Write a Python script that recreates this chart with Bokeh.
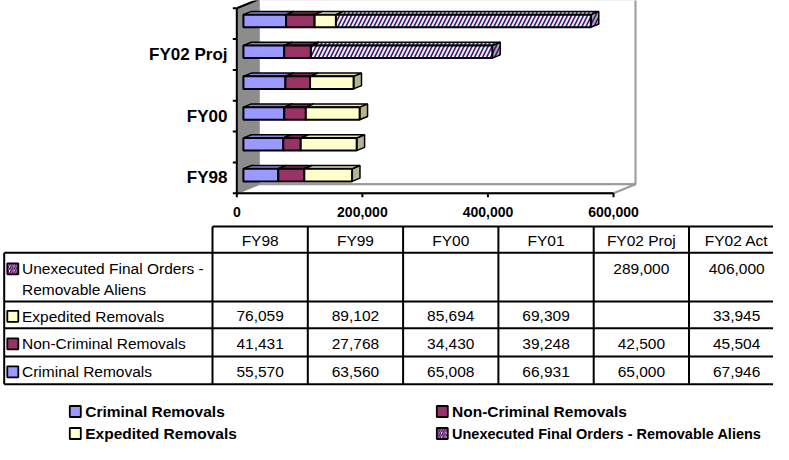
from bokeh.plotting import figure
from bokeh.models import Range1d, ColumnDataSource
from bokeh.core.properties import value
from bokeh.embed import file_html
from bokeh.resources import INLINE

# ---------------- data ----------------
categories = ["FY98", "FY99", "FY00", "FY01", "FY02 Proj", "FY02 Act"]
criminal = [55570, 63560, 65008, 66931, 65000, 67946]
non_criminal = [41431, 27768, 34430, 39248, 42500, 45504]
expedited = [76059, 89102, 85694, 69309, None, 33945]
unexecuted = [None, None, None, None, 289000, 406000]
series_names = ["Criminal Removals", "Non-Criminal Removals",
                "Expedited Removals", "Unexecuted Final Orders - Removable Aliens"]
x_ticks = [0, 200000, 400000, 600000]
x_tick_labels = ["0", "200,000", "400,000", "600,000"]
x_max = 600000

series = [criminal, non_criminal, expedited, unexecuted]

# ---------------- styles ----------------
FONT = value("Liberation Sans")
FRONT = ["#9999FF", "#993366", "#FFFFCC", "#CCFFFF"]
TOP = ["#8585E6", "#80294F", "#E6E6B3", "#B3E6E6"]
SIDE = ["#6B6BB3", "#6B2447", "#B3B38F", "#8FB3B3"]
HATCH = [None, None, None, "/"]
HATCH_COLOR = "#660066"

# ---------------- layout (reference pixel space) ----------------
W, H = 773, 444
PX_X0, PX_X1 = 8, 781
PX_Y0, PX_Y1 = 8, 452
AX_X0, AX_X1 = 244.3, 621.0
K = (AX_X1 - AX_X0) / x_max
CAT_Y0 = 185.3
BAND = 30.83
DEPTH_X, DEPTH_Y = 22.0, 9.0


def v_of(px):
    return (px - AX_X0) / K


def c_of(py):
    return (CAT_Y0 - py) / BAND


p = figure(width=W, height=H,
           x_range=Range1d(PX_X0, PX_X1), y_range=Range1d(PX_Y1, PX_Y0),
           output_backend="svg", toolbar_location=None, min_border=0,
           x_axis_type=None, y_axis_type=None,
           background_fill_color="white", border_fill_color="white",
           outline_line_color=None)
p.extra_x_ranges = {"v": Range1d(v_of(PX_X0), v_of(PX_X1))}
p.extra_y_ranges = {"c": Range1d(c_of(PX_Y1), c_of(PX_Y0))}
kw = dict(x_range_name="v", y_range_name="c")

n = len(categories)
c_lo, c_hi = -0.5, n - 0.5
DXV = DEPTH_X / K
DYC = DEPTH_Y / BAND

# walls and floor
p.quad(left=DXV, right=x_max + DXV, bottom=c_lo + DYC, top=c_hi + DYC,
       fill_color="white", line_color="#999999", line_width=2, **kw)
p.patch(x=[0, x_max, x_max + DXV, DXV], y=[c_lo, c_lo, c_lo + DYC, c_lo + DYC],
        fill_color="white", line_color="#999999", line_width=2, **kw)
p.patch(x=[0, 0, DXV, DXV], y=[c_lo, c_hi, c_hi + DYC, c_lo + DYC],
        fill_color="#8c8c8c", line_color="#8c8c8c", line_width=1, **kw)
p.line(x=[0, DXV], y=[c_hi, c_hi + DYC], line_color="black", line_width=2, **kw)

# axes
p.line(x=[0, 0], y=[c_lo, c_hi], line_color="black", line_width=2, **kw)
p.line(x=[0, x_max], y=[c_lo, c_lo], line_color="black", line_width=2, **kw)
yt = [c_lo + j for j in range(n + 1)]
p.segment(x0=[0] * len(yt), x1=[-4 / K] * len(yt), y0=yt, y1=yt,
          line_color="black", line_width=2, **kw)
p.segment(x0=x_ticks, x1=x_ticks, y0=[c_lo] * len(x_ticks),
          y1=[c_lo - 4 / BAND] * len(x_ticks), line_color="black", line_width=2, **kw)

# bars
F0, FB, HALF = 0.30, 0.36, 6.3 / BAND
fx, fy = F0 * DXV, F0 * DYC
bdx, bdy = FB * DXV, FB * DYC
fronts = [dict(l=[], r=[], b=[], t=[]) for _ in series]
tops = [dict(xs=[], ys=[]) for _ in series]
sides = [dict(xs=[], ys=[]) for _ in series]
for i in range(n):
    cum = 0
    for s, vals in enumerate(series):
        v = vals[i]
        if not v:
            continue
        l, r = cum + fx, cum + v + fx
        b, t = i + fy - HALF, i + fy + HALF
        fronts[s]["l"].append(l); fronts[s]["r"].append(r)
        fronts[s]["b"].append(b); fronts[s]["t"].append(t)
        tops[s]["xs"].append([l, r, r + bdx, l + bdx])
        tops[s]["ys"].append([t, t, t + bdy, t + bdy])
        sides[s]["xs"].append([r, r + bdx, r + bdx, r])
        sides[s]["ys"].append([b, b + bdy, t + bdy, t])
        cum += v


def hatch_kw(s, scale=8.0, weight=1.6):
    if HATCH[s]:
        return dict(hatch_pattern=HATCH[s], hatch_color=HATCH_COLOR,
                    hatch_weight=weight, hatch_scale=scale)
    return {}


for s in range(len(series)):
    p.patches(xs="xs", ys="ys", source=ColumnDataSource(sides[s]),
              fill_color=SIDE[s], line_color="black", line_width=1.5,
              **hatch_kw(s), **kw)
for s in range(len(series)):
    p.patches(xs="xs", ys="ys", source=ColumnDataSource(tops[s]),
              fill_color=TOP[s], line_color="black", line_width=1.5,
              **hatch_kw(s), **kw)
for s in range(len(series)):
    p.quad(left="l", right="r", bottom="b", top="t", source=ColumnDataSource(fronts[s]),
           fill_color=FRONT[s], line_color="black", line_width=2,
           **hatch_kw(s), **kw)

# axis labels
lab_idx = list(range(0, n, 2))
p.text(x=[-9.3 / K] * len(lab_idx), y=lab_idx, text=[categories[i] for i in lab_idx],
       text_font=FONT, text_font_style="bold", text_font_size="17px",
       text_align="right", text_baseline="middle", text_color="black", **kw)
p.text(x=x_ticks, y=[c_of(219)] * len(x_ticks), text=x_tick_labels,
       text_font=FONT, text_font_style="bold", text_font_size="14px",
       text_align="center", text_baseline="middle", text_color="black", **kw)

# ---------------- data table ----------------
TABLE_L, LBL_R, COL_W = 11.7, 220.0, 95.3
ROWS = [234.0, 260.3, 309.0, 335.7, 364.0, 391.7]
col_edges = [LBL_R + j * COL_W for j in range(n + 1)]
RIGHT_END = 800

hx0 = [LBL_R] + [TABLE_L] * (len(ROWS) - 1)
p.segment(x0=hx0, x1=[RIGHT_END] * len(ROWS), y0=ROWS, y1=ROWS,
          line_color="black", line_width=2)
vx = [TABLE_L] + col_edges[:-1]
vy0 = [ROWS[1]] + [ROWS[0]] * (len(vx) - 1)
p.segment(x0=vx, x1=vx, y0=vy0, y1=[ROWS[-1]] * len(vx),
          line_color="black", line_width=2)

col_centers = [LBL_R + (j + 0.5) * COL_W for j in range(n)]
p.text(x=col_centers, y=[(ROWS[0] + ROWS[1]) / 2 + 0.5] * n, text=categories,
       text_font=FONT, text_font_size="15.5px", text_align="center",
       text_baseline="middle", text_color="black")

table_order = [3, 2, 1, 0]
row_y = []
for r, s in enumerate(table_order):
    top_, bot_ = ROWS[r + 1], ROWS[r + 2]
    if s == 3:
        row_y.append(top_ + 16.0)
    else:
        row_y.append((top_ + bot_) / 2 + 1.5)

# row labels
lbl_x, lbl_y, lbl_t = [], [], []
for r, s in enumerate(table_order):
    name = series_names[s]
    if " - " in name:
        a, b = name.split(" - ", 1)
        lines = [a + " -", b]
    else:
        lines = [name]
    for li, line in enumerate(lines):
        lbl_x.append(29.5)
        lbl_y.append(row_y[r] + 21.0 * li)
        lbl_t.append(line)
p.text(x=lbl_x, y=lbl_y, text=lbl_t, text_font=FONT, text_font_size="15.5px",
       text_align="left", text_baseline="middle", text_color="black")

# values
vx_, vy_, vt_ = [], [], []
for r, s in enumerate(table_order):
    for i in range(n):
        v = series[s][i]
        if v is None:
            continue
        vx_.append(col_centers[i])
        vy_.append(row_y[r])
        vt_.append(f"{v:,}")
p.text(x=vx_, y=vy_, text=vt_, text_font=FONT, text_font_size="15.5px",
       text_align="center", text_baseline="middle", text_color="black")

# table swatches
for r, s in enumerate(table_order):
    p.rect(x=20.3, y=row_y[r], width=11, height=11, fill_color=FRONT[s],
           line_color="black", line_width=1.8, **hatch_kw(s, 4.5, 1.5))

# ---------------- legend ----------------
LEG_SW_X = [82.8, 449.8]
LEG_TX_X = [92.7, 459.5]
LEG_Y = [419.0, 441.0]
LEG_SIZE = ["15.5px", "15.5px", "15.5px", "14.5px"]
legend_pos = [(0, 0), (1, 0), (0, 1), (1, 1)]
for s, (cx, ry) in enumerate(legend_pos):
    p.rect(x=LEG_SW_X[cx], y=LEG_Y[ry], width=11, height=11, fill_color=FRONT[s],
           line_color="black", line_width=1.8, **hatch_kw(s, 4.5, 1.5))
p.text(x=[LEG_TX_X[cx] for cx, ry in legend_pos], y=[LEG_Y[ry] for cx, ry in legend_pos],
       text=series_names, text_font=FONT, text_font_style="bold",
       text_font_size=LEG_SIZE, text_align="left", text_baseline="middle",
       text_color="black")

open("out.html", "w").write(file_html(p, INLINE))
